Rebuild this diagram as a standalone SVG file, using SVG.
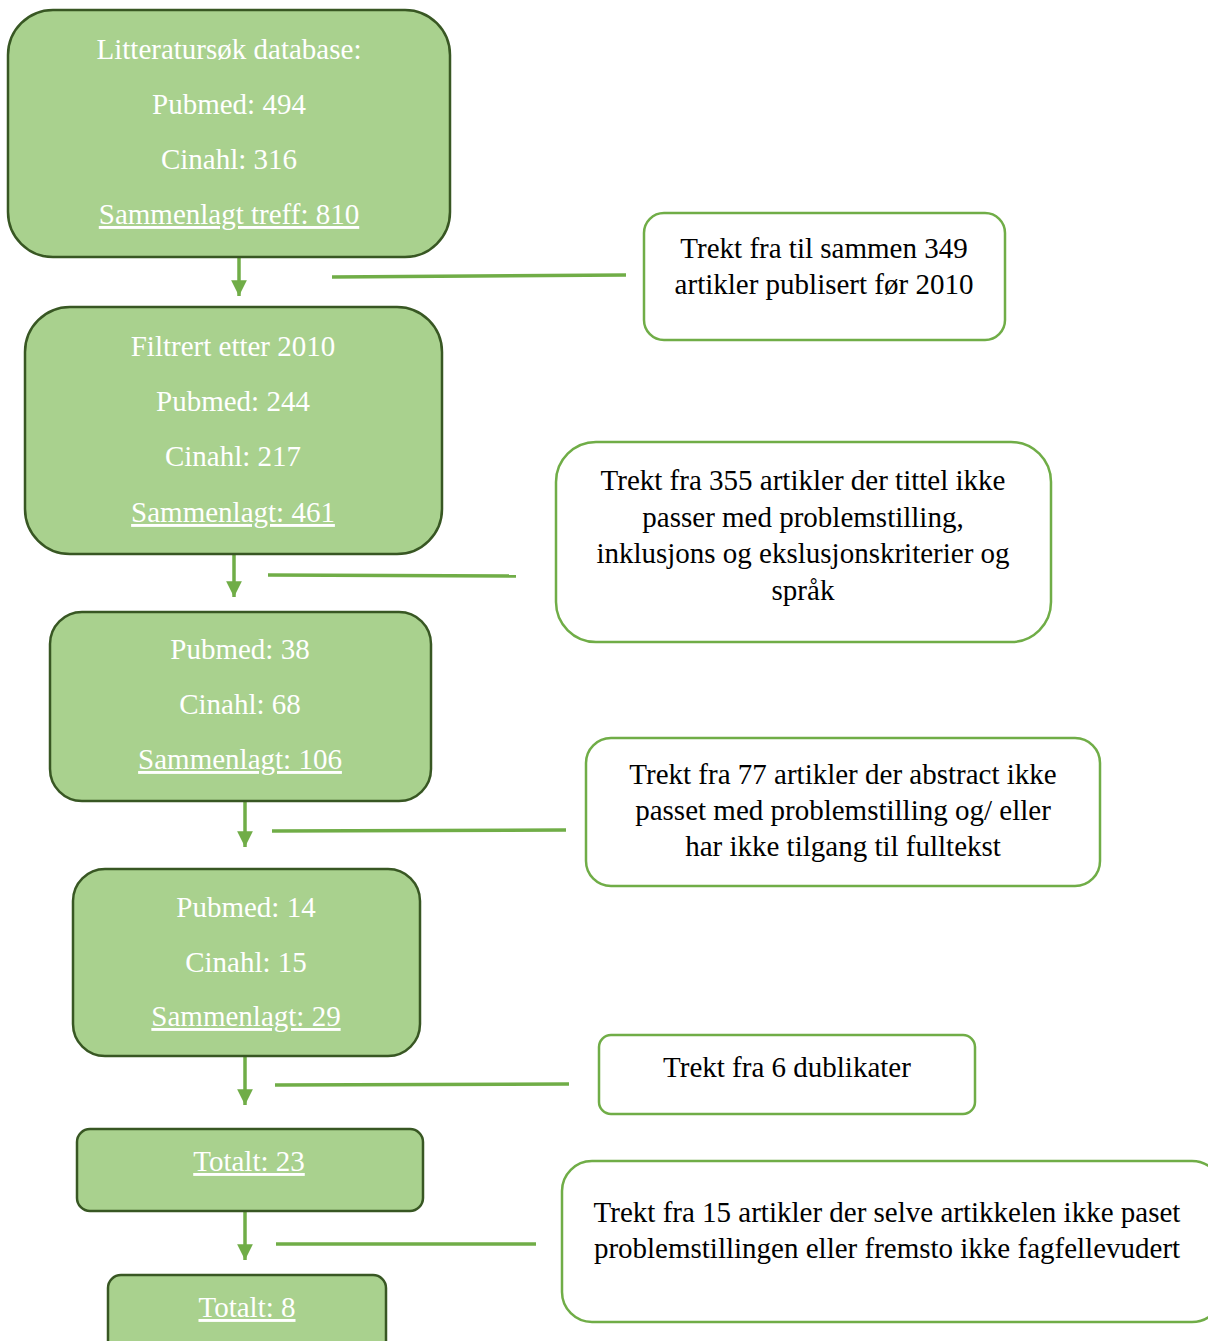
<svg xmlns="http://www.w3.org/2000/svg" width="1208" height="1341" viewBox="0 0 1208 1341">
<defs>
<style>
.g{fill:#A9D18E;stroke:#385723;stroke-width:2.5}
.w{fill:#FFFFFF;stroke:#70AD47;stroke-width:2.5}
.tw{font-family:"Liberation Serif","Times New Roman",serif;font-size:29px;fill:#FFFFFF;text-anchor:middle}
.tb{font-family:"Liberation Serif","Times New Roman",serif;font-size:29px;fill:#000000;text-anchor:middle}
.u{text-decoration:underline}
.c{stroke:#70AD47;stroke-width:3.5;fill:none}
</style>
<marker id="ah" viewBox="0 0 10 10" refX="10" refY="5" markerWidth="4.5" markerHeight="4.5" orient="auto" markerUnits="strokeWidth">
<path d="M0,0 L10,5 L0,10 z" fill="#70AD47"/>
</marker>
</defs>
<rect width="1208" height="1341" fill="#FFFFFF"/>
<g id="connectors">
<line class="c" x1="239" y1="258" x2="239" y2="296" marker-end="url(#ah)"/>
<line class="c" x1="234" y1="555" x2="234" y2="597" marker-end="url(#ah)"/>
<line class="c" x1="245" y1="802" x2="245" y2="847" marker-end="url(#ah)"/>
<line class="c" x1="245" y1="1057" x2="245" y2="1105" marker-end="url(#ah)"/>
<line class="c" x1="245" y1="1212" x2="245" y2="1260" marker-end="url(#ah)"/>
<line class="c" x1="332" y1="277" x2="626" y2="275"/>
<line class="c" x1="268" y1="575" x2="516" y2="576"/>
<line class="c" x1="272" y1="831" x2="566" y2="830"/>
<line class="c" x1="275" y1="1085" x2="569" y2="1084"/>
<line class="c" x1="276" y1="1244" x2="536" y2="1244"/>
</g>
<g id="n1">
<rect class="g" x="8" y="10" width="442" height="247" rx="45"/>
<text class="tw" x="229" y="59">Litteratursøk database:</text>
<text class="tw" x="229" y="114">Pubmed: 494</text>
<text class="tw" x="229" y="169">Cinahl: 316</text>
<text class="tw u" x="229" y="224">Sammenlagt treff: 810</text>
</g>
<g id="n2">
<rect class="g" x="25" y="307" width="417" height="247" rx="45"/>
<text class="tw" x="233" y="356">Filtrert etter 2010</text>
<text class="tw" x="233" y="411">Pubmed: 244</text>
<text class="tw" x="233" y="466">Cinahl: 217</text>
<text class="tw u" x="233" y="522">Sammenlagt: 461</text>
</g>
<g id="n3">
<rect class="g" x="50" y="612" width="381" height="189" rx="32"/>
<text class="tw" x="240" y="659">Pubmed: 38</text>
<text class="tw" x="240" y="714">Cinahl: 68</text>
<text class="tw u" x="240" y="769">Sammenlagt: 106</text>
</g>
<g id="n4">
<rect class="g" x="73" y="869" width="347" height="187" rx="32"/>
<text class="tw" x="246" y="917">Pubmed: 14</text>
<text class="tw" x="246" y="972">Cinahl: 15</text>
<text class="tw u" x="246" y="1026">Sammenlagt: 29</text>
</g>
<g id="n5">
<rect class="g" x="77" y="1129" width="346" height="82" rx="13"/>
<text class="tw u" x="249" y="1171">Totalt: 23</text>
</g>
<g id="n6">
<rect class="g" x="108" y="1275" width="278" height="90" rx="13"/>
<text class="tw u" x="247" y="1317">Totalt: 8</text>
</g>
<g id="r1">
<rect class="w" x="644" y="213" width="361" height="127" rx="20"/>
<text class="tb" x="824" y="258">Trekt fra til sammen 349</text>
<text class="tb" x="824" y="294">artikler publisert før 2010</text>
</g>
<g id="r2">
<rect class="w" x="556" y="442" width="495" height="200" rx="40"/>
<text class="tb" x="803" y="490">Trekt fra 355 artikler der tittel ikke</text>
<text class="tb" x="803" y="527">passer med problemstilling,</text>
<text class="tb" x="803" y="563">inklusjons og ekslusjonskriterier og</text>
<text class="tb" x="803" y="600">språk</text>
</g>
<g id="r3">
<rect class="w" x="586" y="738" width="514" height="148" rx="25"/>
<text class="tb" x="843" y="784">Trekt fra 77 artikler der abstract ikke</text>
<text class="tb" x="843" y="820">passet med problemstilling og/ eller</text>
<text class="tb" x="843" y="856">har ikke tilgang til fulltekst</text>
</g>
<g id="r4">
<rect class="w" x="599" y="1035" width="376" height="79" rx="12"/>
<text class="tb" x="787" y="1077">Trekt fra 6 dublikater</text>
</g>
<g id="r5">
<rect class="w" x="562" y="1161" width="660" height="161" rx="30"/>
<text class="tb" x="887" y="1222">Trekt fra 15 artikler der selve artikkelen ikke paset</text>
<text class="tb" x="887" y="1258">problemstillingen eller fremsto ikke fagfellevudert</text>
</g>
</svg>
